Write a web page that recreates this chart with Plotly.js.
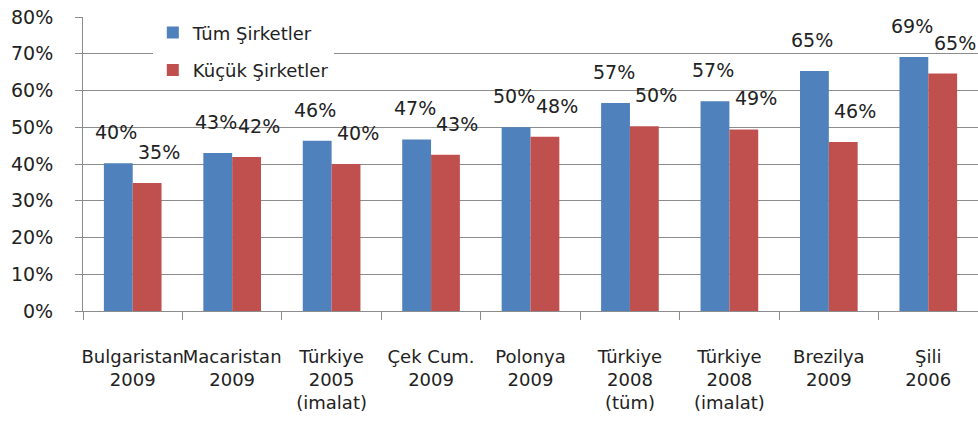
<!DOCTYPE html>
<html>
<head>
<meta charset="utf-8">
<script src="https://cdn.plot.ly/plotly-3.0.1.min.js"></script>
<style>html,body{margin:0;padding:0;background:#fff;}#chart{width:978px;height:431px;}</style>
</head>
<body>
<div id="chart"></div>
<script>
const categories = [
  "Bulgaristan<br>2009",
  "Macaristan<br>2009",
  "Türkiye<br>2005<br>(imalat)",
  "Çek Cum.<br>2009",
  "Polonya<br>2009",
  "Türkiye<br>2008<br>(tüm)",
  "Türkiye<br>2008<br>(imalat)",
  "Brezilya<br>2009",
  "Şili<br>2006"
];
const tumSirketler = [40.2, 43.0, 46.3, 46.7, 50.0, 56.6, 57.1, 65.3, 69.1];
const kucukSirketler = [34.8, 41.9, 40.0, 42.5, 47.4, 50.3, 49.4, 46.0, 64.6];
const tumLabels = ["40%", "43%", "46%", "47%", "50%", "57%", "57%", "65%", "69%"];
const kucukLabels = ["35%", "42%", "40%", "43%", "48%", "50%", "49%", "46%", "65%"];
const seriesNames = ["Tüm Şirketler", "Küçük Şirketler"];
const yTicks = [0, 10, 20, 30, 40, 50, 60, 70, 80];

const FONT = "DejaVu Sans, Arial, sans-serif";
const BLUE = "#4F81BD", RED = "#C0504D";

const traces = [
  {type: "bar", name: seriesNames[0], x: categories, y: tumSirketler,
   marker: {color: BLUE}, legendgroup: "a", hoverinfo: "skip"},
  {type: "bar", name: seriesNames[1], x: categories, y: kucukSirketler,
   marker: {color: RED}, legendgroup: "b", hoverinfo: "skip"}
];

const annotations = [];
categories.forEach((c, i) => {
  annotations.push({x: i - 0.145, y: tumSirketler[i], xref: "x", yref: "y",
    text: tumLabels[i], showarrow: false, yanchor: "middle", yshift: 31, xshift: -2,
    font: {family: FONT, size: 19, color: "#222"}});
  annotations.push({x: i + 0.145, y: kucukSirketler[i], xref: "x", yref: "y",
    text: kucukLabels[i], showarrow: false, yanchor: "middle", yshift: 31, xshift: 12,
    font: {family: FONT, size: 19, color: "#222"}});
});

const layout = {
  width: 978, height: 431,
  margin: {l: 83, r: 0, t: 17, b: 120},
  paper_bgcolor: "#fff", plot_bgcolor: "#fff",
  font: {family: FONT, size: 19, color: "#222"},
  barmode: "group", bargap: 0.42, bargroupgap: 0,
  showlegend: true,
  legend: {x: 0.078, y: 1.009, xanchor: "left", yanchor: "top",
    bgcolor: "#fff", borderwidth: 0, tracegroupgap: 11,
    font: {family: FONT, size: 18, color: "#222"}, traceorder: "grouped"},
  xaxis: {type: "category", showgrid: false, showline: true, linecolor: "#8c8c8c", linewidth: 1,
    ticks: "outside", tickson: "boundaries", ticklen: 8, tickcolor: "#8c8c8c",
    tickangle: 0, automargin: false,
    ticklabelstandoff: 29, tickfont: {family: FONT, size: 18, color: "#222"},
    fixedrange: true},
  yaxis: {range: [0, 80], tickvals: yTicks, ticktext: yTicks.map(v => v + "%"),
    showgrid: true, gridcolor: "#8c8c8c", gridwidth: 1, zeroline: false,
    showline: true, linecolor: "#8c8c8c", linewidth: 1,
    ticks: "outside", ticklen: 7, tickcolor: "#8c8c8c",
    ticklabelstandoff: 18, tickfont: {family: FONT, size: 19, color: "#222"},
    fixedrange: true},
  annotations: annotations
};

Plotly.newPlot("chart", traces, layout, {staticPlot: true, displayModeBar: false});
</script>
</body>
</html>
